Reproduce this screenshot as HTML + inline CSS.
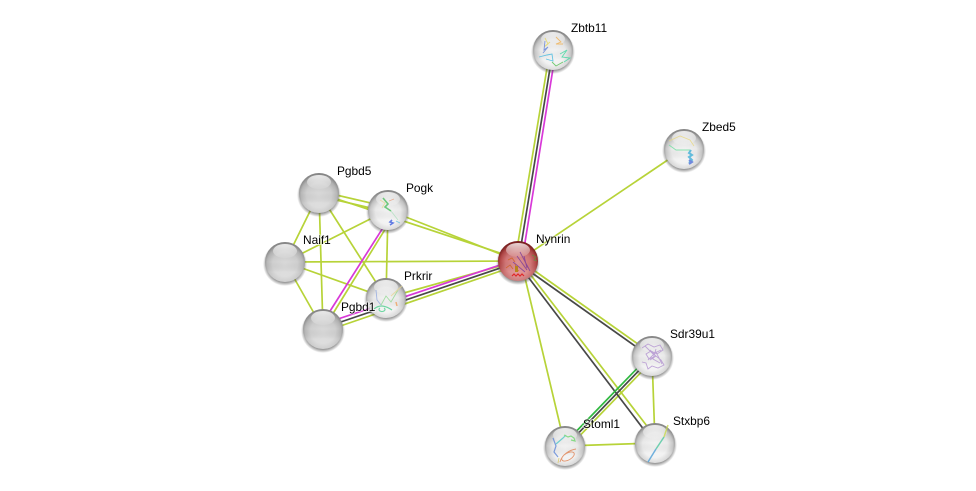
<!DOCTYPE html>
<html>
<head>
<meta charset="utf-8">
<style>
html,body{margin:0;padding:0;background:#fff;width:976px;height:491px;overflow:hidden}
svg{display:block}
text{font-family:"Liberation Sans",sans-serif;font-size:11.9px;fill:#000;paint-order:stroke;stroke:#fff;stroke-opacity:.55;stroke-width:2px}
.l line{stroke:#b7d338;stroke-width:1.7;fill:none}
.m line{stroke:#d838d8;stroke-width:1.7}
.d line{stroke:#484848;stroke-width:1.7}
.g line{stroke:#30b840;stroke-width:1.7}
.s{opacity:.8}
.s polyline,.s path{fill:none;stroke-width:.9}
</style>
</head>
<body>
<svg width="976" height="491" viewBox="0 0 976 491" xmlns="http://www.w3.org/2000/svg">
<defs>
<radialGradient id="gr" cx="50%" cy="55%" r="52%">
<stop offset="0" stop-color="#dedede"/><stop offset=".6" stop-color="#d4d4d4"/><stop offset=".86" stop-color="#bcbcbc"/><stop offset="1" stop-color="#969696"/>
</radialGradient>
<radialGradient id="wh" cx="50%" cy="55%" r="52%">
<stop offset="0" stop-color="#f8f8f8"/><stop offset=".6" stop-color="#efefef"/><stop offset=".86" stop-color="#cdcdcd"/><stop offset="1" stop-color="#989898"/>
</radialGradient>
<radialGradient id="rd" cx="50%" cy="55%" r="52%">
<stop offset="0" stop-color="#e49a9a"/><stop offset=".6" stop-color="#d67878"/><stop offset=".86" stop-color="#b84a4a"/><stop offset="1" stop-color="#8a2525"/>
</radialGradient>
<linearGradient id="hl" x1="0" y1="0" x2="0" y2="1">
<stop offset="0" stop-color="#fff" stop-opacity=".8"/><stop offset="1" stop-color="#fff" stop-opacity=".1"/>
</linearGradient>
<linearGradient id="ov" x1="0" y1="0" x2="0" y2="1">
<stop offset="0" stop-color="#000" stop-opacity=".12"/><stop offset=".5" stop-color="#000" stop-opacity=".02"/><stop offset=".75" stop-color="#fff" stop-opacity=".15"/><stop offset="1" stop-color="#fff" stop-opacity=".3"/>
</linearGradient>
<radialGradient id="sh"><stop offset=".8" stop-color="#444" stop-opacity=".65"/><stop offset="1" stop-color="#444" stop-opacity="0"/></radialGradient>
<g id="gloss">
<circle r="20" fill="url(#ov)"/>
<ellipse cy="-11" rx="12" ry="7" fill="url(#hl)"/>
</g>
</defs>

<g class="l">
<line x1="319" y1="191" x2="388" y2="207"/><line x1="319" y1="196" x2="388" y2="212"/>
<line x1="319" y1="193" x2="518" y2="259"/><line x1="388" y1="210" x2="518" y2="261"/>
<line x1="319" y1="193" x2="386" y2="298"/><line x1="319" y1="193" x2="285" y2="262"/>
<line x1="319" y1="193" x2="323" y2="329"/><line x1="285" y1="262" x2="388" y2="210"/>
<line x1="285" y1="262" x2="518" y2="261"/><line x1="285" y1="262" x2="386" y2="298"/>
<line x1="285" y1="262" x2="323" y2="329"/><line x1="388" y1="210" x2="386" y2="298"/>
<line x1="389" y1="223" x2="329" y2="320"/>
<line x1="386" y1="298" x2="518" y2="261"/>
<line x1="323" y1="332" x2="518" y2="265"/>
<line x1="518" y1="261" x2="684" y2="149"/>
<line x1="515" y1="261" x2="550" y2="50"/>
<line x1="521" y1="261" x2="565" y2="446"/>
<line x1="518" y1="259" x2="652" y2="354"/>
<line x1="520" y1="261" x2="660" y2="443"/>
<line x1="652" y1="356" x2="655" y2="443"/>
<line x1="565" y1="446" x2="655" y2="443"/>
<line x1="565" y1="451" x2="652" y2="361"/>
</g>
<g class="m">
<line x1="556" y1="50" x2="522" y2="261"/>
<line x1="386" y1="223" x2="325" y2="319"/>
<line x1="323" y1="324" x2="518" y2="259"/>
</g>
<g class="d">
<line x1="553" y1="50" x2="518.5" y2="261"/>
<line x1="323" y1="328" x2="518" y2="262"/>
<line x1="518" y1="263" x2="652" y2="358"/>
<line x1="516" y1="261" x2="654" y2="443"/>
<line x1="565" y1="447" x2="652" y2="357"/>
</g>
<g class="g"><line x1="565" y1="443" x2="652" y2="353"/></g>

<g id="nodes">
<circle cx="553" cy="52" r="22" fill="url(#sh)"/><circle cx="553" cy="50" r="20" fill="url(#wh)"/>
<circle cx="684" cy="151" r="22" fill="url(#sh)"/><circle cx="684" cy="149" r="20" fill="url(#wh)"/>
<circle cx="319" cy="195" r="22" fill="url(#sh)"/><circle cx="319" cy="193" r="20" fill="url(#gr)"/>
<circle cx="388" cy="212" r="22" fill="url(#sh)"/><circle cx="388" cy="210" r="20" fill="url(#wh)"/>
<circle cx="285" cy="264" r="22" fill="url(#sh)"/><circle cx="285" cy="262" r="20" fill="url(#gr)"/>
<circle cx="386" cy="300" r="22" fill="url(#sh)"/><circle cx="386" cy="298" r="20" fill="url(#wh)"/>
<circle cx="323" cy="331" r="22" fill="url(#sh)"/><circle cx="323" cy="329" r="20" fill="url(#gr)"/>
<circle cx="518" cy="263" r="22" fill="url(#sh)"/><circle cx="518" cy="261" r="20" fill="url(#rd)"/>
<circle cx="652" cy="358" r="22" fill="url(#sh)"/><circle cx="652" cy="356" r="20" fill="url(#wh)"/>
<circle cx="655" cy="445" r="22" fill="url(#sh)"/><circle cx="655" cy="443" r="20" fill="url(#wh)"/>
<circle cx="565" cy="448" r="22" fill="url(#sh)"/><circle cx="565" cy="446" r="20" fill="url(#wh)"/>
</g>

<use href="#gloss" x="553" y="50"/><use href="#gloss" x="684" y="149"/><use href="#gloss" x="319" y="193"/>
<use href="#gloss" x="388" y="210"/><use href="#gloss" x="285" y="262"/><use href="#gloss" x="386" y="298"/>
<use href="#gloss" x="323" y="329"/><use href="#gloss" x="518" y="261"/><use href="#gloss" x="652" y="356"/>
<use href="#gloss" x="655" y="443"/><use href="#gloss" x="565" y="446"/>

<g class="s">
<polyline stroke="#e6d860" points="545,38 548,44 544,47 550,42"/>
<polyline stroke="#f0b050" points="556,37 561,42 556,44 563,44"/>
<polyline stroke="#6080d8" points="545,41 544,50 548,47 543,53"/>
<polyline stroke="#40b8e0" points="539,57 547,55 552,54 553,61 546,59"/>
<polyline stroke="#40d8a0" points="560,54 567,50 562,57 570,58 564,62"/>
<polyline stroke="#50c050" points="552,62 556,66 563,62"/>
<polyline stroke="#e8d880" points="669,141 680,136 690,140 694,146"/>
<polyline stroke="#70e0a0" points="669,145 676,150 690,150"/>
<path d="M691,150 L689,153 L692,155 L689,157 L692,160 L689,163" stroke="#40b0d8" style="stroke-width:2"/>
<path d="M689,160 l3,2 l-3,2" stroke="#5070d8" style="stroke-width:2"/>
<polyline stroke="#e8d890" points="380,200 385,203 382,208"/>
<polyline stroke="#50c060" style="stroke-width:1.6" points="383,198 388,204 385,207 391,211"/>
<polyline stroke="#e8a080" points="389,201 394,199"/>
<polyline stroke="#b0e0c0" points="391,211 398,220"/>
<path d="M392,220 l-2,2 l3,1 l-3,2" stroke="#4060e0" style="stroke-width:1.6"/>
<polyline stroke="#60c0e0" points="396,221 400,223"/>
<polyline stroke="#90a8e0" points="376,290 377,300 381,305"/>
<polyline stroke="#90d890" points="381,305 386,296 391,302 398,290"/>
<polyline stroke="#e8d890" points="391,296 402,286"/>
<polyline stroke="#f0a060" style="stroke-width:1.5" points="396,302 397,306"/>
<path d="M374,309 C380,304 386,306 392,310 M380,308 a3,2 0 1 0 4,0" stroke="#50d090" style="stroke-width:1.2"/>
<path d="M520,252 L530,271 M524,256 L527,268 M517,256 L527,270 M513,262 L525,272" stroke="#7a3a9a"/>
<path d="M532,255 l4,2 l-2,3 l3,1" stroke="#609040"/>
<path d="M508,260 L512,258 L515,262 M506,268 l4,-3 l3,4 M515,264 l2,6 l2,1" stroke="#d06020"/>
<rect x="515" y="266" width="3" height="6" fill="#b08000"/>
<path d="M512,276 l2,-2 l2,2 l2,-2 l2,2 l2,-2 l2,2" stroke="#e01010" style="stroke-width:1.2"/>
<path d="M642,348 l6,-4 l6,3 l6,-2 l3,5 l-6,4 l-6,-3 l-5,3 l3,5 l7,-3 l5,4 l3,5 l-6,3 l-6,-2 l-4,3 l-2,-6 l-4,-1 M650,350 l6,6 l-6,4 M656,349 l-3,10 l7,4 M645,346 l8,8 l8,-4 M648,360 l8,-8 l6,12" stroke="#b090d0"/>
<path d="M668,425 L664,437" stroke="#c8d850" style="stroke-width:1.5"/>
<path d="M664,437 L656,449" stroke="#50c8a0" style="stroke-width:1.5"/>
<path d="M656,449 L648,462" stroke="#50a0d8" style="stroke-width:1.5"/>
<path d="M553,438 l3,8 l-2,6 l4,5" stroke="#6088d8" style="stroke-width:1.2"/>
<path d="M556,444 l7,-6 l3,-3" stroke="#50c8c8" style="stroke-width:1.2"/>
<path d="M564,435 l4,2 l3,-1 l3,2 l1,3 l-4,-1" stroke="#70d870" style="stroke-width:1.2"/>
<path d="M560,462 c2,-8 10,-12 16,-13 M562,460 a6,3 -30 1 0 12,-7 a6,3 -30 1 0 -12,7" stroke="#e08050"/>
<path d="M559,458 l-1,5" stroke="#d8c860"/>
</g>

<text x="571" y="32">Zbtb11</text>
<text x="702" y="131">Zbed5</text>
<text x="337" y="175">Pgbd5</text>
<text x="406" y="192">Pogk</text>
<text x="303" y="244">Naif1</text>
<text x="536" y="243">Nynrin</text>
<text x="404" y="280">Prkrir</text>
<text x="341" y="311">Pgbd1</text>
<text x="670" y="338">Sdr39u1</text>
<text x="673" y="425">Stxbp6</text>
<text x="583" y="428">Stoml1</text>
</svg>
</body>
</html>
